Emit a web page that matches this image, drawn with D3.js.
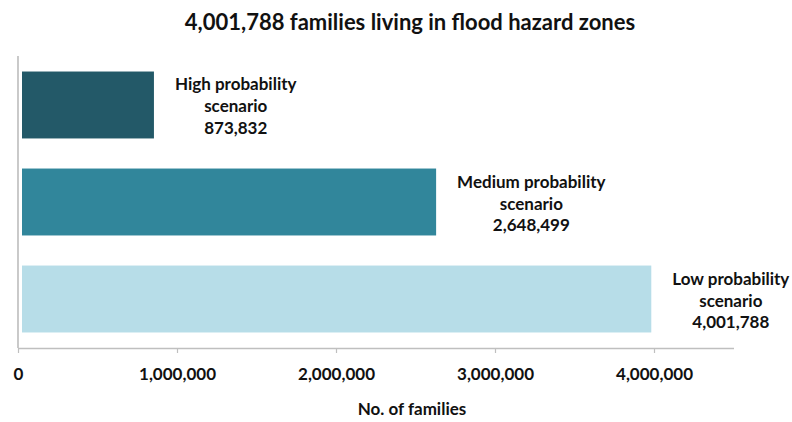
<!DOCTYPE html>
<html><head><meta charset="utf-8">
<script src="https://cdn.jsdelivr.net/npm/d3@7"></script>
<style>body{margin:0;background:#fff}svg{display:block}text{font-family:Lato,"Open Sans",sans-serif;font-weight:bold;fill:#111}</style>
</head><body>
<script>
const categories = ["High probability scenario", "Medium probability scenario", "Low probability scenario"];
const labelLine1 = ["High probability", "Medium probability", "Low probability"];
const values = [873832, 2648499, 4001788];
const colors = ["#235968", "#31869b", "#b7dde8"];
const tickValues = [0, 1000000, 2000000, 3000000, 4000000];
const title = "4,001,788 families living in flood hazard zones";
const xTitle = "No. of families";

const W = 792, H = 422;
const svg = d3.select("body").append("svg").attr("width", W).attr("height", H);
const x = d3.scaleLinear().domain([0, 4500000]).range([18, 733.5]);
const y = d3.scaleBand().domain(categories).range([56, 348]).paddingInner(0.31).paddingOuter(0.16);
const fmt = d3.format(",");

// title
svg.append("text").attr("x", 410).attr("y", 30).attr("text-anchor", "middle")
  .style("font-size", "22px").text(title);

// bars
svg.selectAll("rect.bar").data(values).join("rect").attr("class", "bar")
  .attr("x", x(0) + 4).attr("y", (d, i) => y(categories[i]))
  .attr("width", d => x(d) - 3 - x(0) - 4).attr("height", y.bandwidth())
  .attr("fill", (d, i) => colors[i]);

// labels
const lab = svg.selectAll("g.lab").data(values).join("g").attr("class", "lab");
lab.each(function(d, i) {
  const g = d3.select(this);
  const lines = [labelLine1[i], "scenario", fmt(d)];
  const offs = [-14.5, 7.5, 29];
  const ts = lines.map((t, k) => g.append("text").attr("text-anchor", "middle")
    .attr("y", offs[k]).style("font-size", "17px").text(t));
  const w = ts[0].node().getComputedTextLength();
  g.attr("transform", `translate(${x(d) + 18 + w / 2},${y(categories[i]) + y.bandwidth() / 2})`);
});

// axes
svg.append("line").attr("x1", x(0)).attr("x2", x(0)).attr("y1", 56).attr("y2", 348)
  .attr("stroke", "#a6a6a6").attr("stroke-width", 1.2);
const ax = svg.append("g").attr("transform", "translate(0,348)")
  .call(d3.axisBottom(x).tickValues(tickValues).tickFormat(fmt).tickSize(5).tickPadding(15).tickSizeOuter(0));
ax.select(".domain").attr("stroke", "#bfbfbf").attr("stroke-width", 1.5);
ax.selectAll(".tick line").attr("stroke", "#bfbfbf").attr("stroke-width", 1.2);
ax.selectAll(".tick text").style("font-size", "17px").style("font-family", "Lato,sans-serif")
  .style("font-weight", "bold").attr("fill", "#111");

svg.append("text").attr("x", 412).attr("y", 415).attr("text-anchor", "middle")
  .style("font-size", "17px").text(xTitle);
</script>
</body></html>
